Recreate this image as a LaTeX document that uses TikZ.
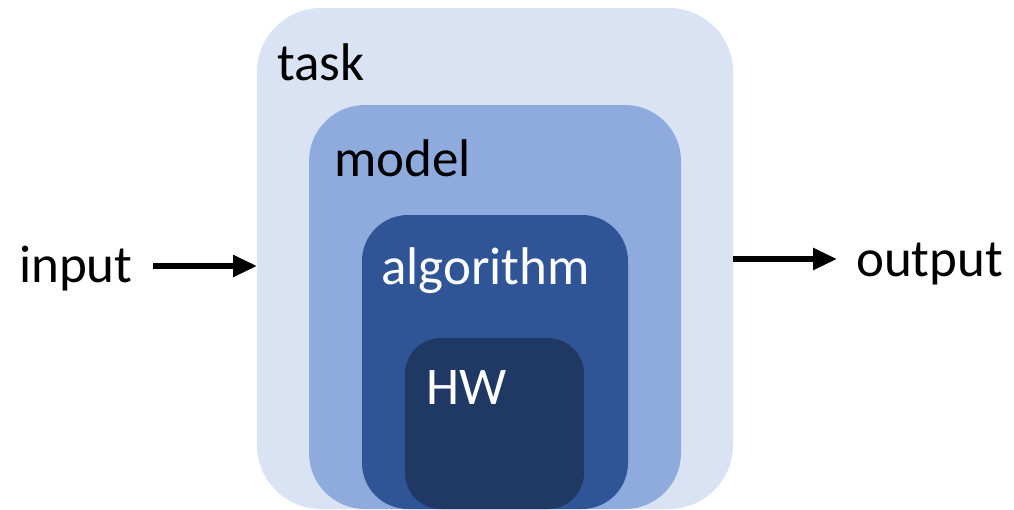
\documentclass[tikz,border=0pt]{standalone}
\usepackage{fontspec}
\setmainfont{Carlito}
\usetikzlibrary{arrows.meta}
\definecolor{taskc}{HTML}{DAE3F3}
\definecolor{modelc}{HTML}{8FAADC}
\definecolor{algoc}{HTML}{2F5597}
\definecolor{hwc}{HTML}{203864}
\begin{document}
\begin{tikzpicture}[x=1pt,y=-1pt,
  lbl/.style={anchor=base west, inner sep=0pt, font=\fontsize{53}{60}\selectfont},
  flow/.style={line width=5.5pt, -{Triangle[length=24pt,width=21pt]}}]
\useasboundingbox (0,0) rectangle (1014,509);
% nested layers, all resting on the bottom edge
\fill[taskc, rounded corners=64pt] (257,8) rectangle (733,509);
\fill[modelc, rounded corners=56pt] (309,105) rectangle (681,509);
\fill[algoc, rounded corners=46pt] (362,215) rectangle (628,509);
\fill[hwc, rounded corners=36pt] (405,338) rectangle (584,509);
\coordinate (tl) at (257,266);
\coordinate (tr) at (733,259);
% labels
\node[lbl] (task) at (277,80) {task};
\node[lbl] (model) at (334,176) {model};
\node[lbl, text=white] (algo) at (381,284) {algorithm};
\node[lbl, text=white] (hw) at (426,404) {HW};
\node[lbl] (input) at (19,282) {input};
\node[lbl] (output) at (856,276) {output};
% flow arrows
\coordinate (inS) at (153,266);
\coordinate (outE) at (837,259);
\draw[flow] (inS) -- (tl);
\draw[flow] (tr) -- (outE);
\end{tikzpicture}
\end{document}
